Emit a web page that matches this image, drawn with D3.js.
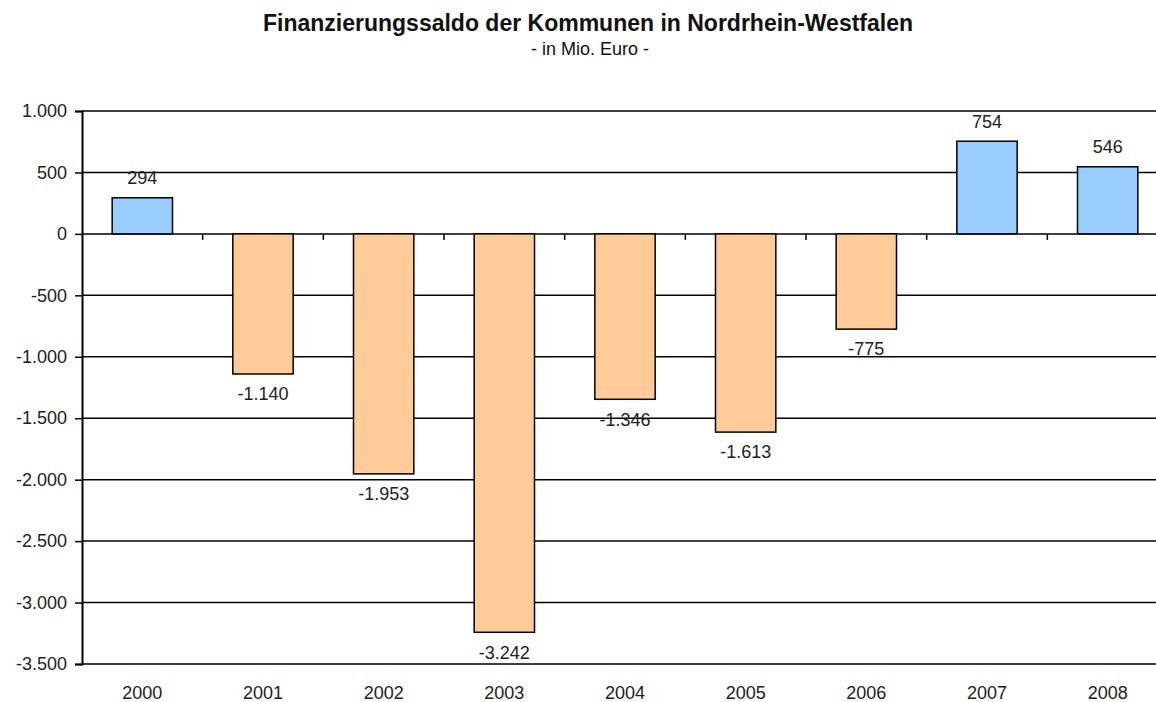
<!DOCTYPE html>
<html>
<head>
<meta charset="utf-8">
<script src="https://cdn.jsdelivr.net/npm/d3@7"></script>
<style>
  body { margin: 0; background: #fff; }
  svg { font-family: "Liberation Sans", Arial, sans-serif; }
</style>
</head>
<body>
<svg id="chart" width="1156" height="702"></svg>
<script>
// data
var years = ["2000", "2001", "2002", "2003", "2004", "2005", "2006", "2007", "2008"];
var saldo = [294, -1140, -1953, -3242, -1346, -1613, -775, 754, 546];
var yTicks = [1000, 500, 0, -500, -1000, -1500, -2000, -2500, -3000, -3500];

var data = years.map(function(y, i) { return {year: y, value: saldo[i]}; });

// german number format, plain hyphen as minus
var de = d3.formatLocale({decimal: ",", thousands: ".", grouping: [3], currency: ["", " €"], minus: "-"});
var fmt = de.format(",d");

var margin = {top: 111, left: 82, bottom: 38};
var width = 1086;
var height = 702 - margin.top - margin.bottom; // 553

var svg = d3.select("#chart");

svg.append("text")
    .attr("x", 588).attr("y", 31)
    .attr("text-anchor", "middle")
    .style("font-size", "23px").style("font-weight", "bold").style("fill", "#111")
    .text("Finanzierungssaldo der Kommunen in Nordrhein-Westfalen");

svg.append("text")
    .attr("x", 590).attr("y", 55)
    .attr("text-anchor", "middle")
    .style("font-size", "18px").style("fill", "#111")
    .text("- in Mio. Euro -");

var chart = svg.append("g")
    .attr("transform", "translate(" + margin.left + "," + margin.top + ")");

var x = d3.scaleBand()
    .domain(years)
    .range([0, width])
    .paddingInner(0.5)
    .paddingOuter(0.25);

var y = d3.scaleLinear()
    .domain([-3500, 1000])
    .range([height, 0]);

// gridlines
chart.append("g")
    .attr("class", "grid")
    .selectAll("line")
    .data(yTicks)
    .enter().append("line")
      .attr("x1", 0).attr("x2", width)
      .attr("y1", function(d) { return y(d); })
      .attr("y2", function(d) { return y(d); })
      .attr("stroke", "#000").attr("stroke-width", 1.5);

// y axis
var yAxis = d3.axisLeft(y)
    .tickValues(yTicks)
    .tickFormat(fmt)
    .tickSize(7)
    .tickPadding(8);

var yg = chart.append("g").call(yAxis);
yg.select(".domain").attr("stroke", "#000").attr("stroke-width", 2);
yg.selectAll(".tick line").attr("stroke", "#000").attr("stroke-width", 1.5);
yg.selectAll(".tick text")
    .style("font-size", "18px").style("fill", "#222")
    .style("font-family", "'Liberation Sans', Arial, sans-serif");

// bars
chart.selectAll(".bar")
    .data(data)
  .enter().append("rect")
    .attr("class", "bar")
    .attr("x", function(d) { return x(d.year); })
    .attr("y", function(d) { return y(Math.max(0, d.value)); })
    .attr("width", x.bandwidth())
    .attr("height", function(d) { return Math.abs(y(d.value) - y(0)); })
    .attr("fill", function(d) { return d.value >= 0 ? "#99ccff" : "#ffcc99"; })
    .attr("stroke", "#000")
    .attr("stroke-width", 1.5);

// zero-line ticks between categories
var step = x.step();
chart.append("g")
    .selectAll("line")
    .data(years.slice(1))
    .enter().append("line")
      .attr("x1", function(d) { return x(d) - step * 0.25; })
      .attr("x2", function(d) { return x(d) - step * 0.25; })
      .attr("y1", y(0))
      .attr("y2", y(0) + 6)
      .attr("stroke", "#000").attr("stroke-width", 1.5);

// x labels
chart.append("g")
    .selectAll("text")
    .data(years)
    .enter().append("text")
      .attr("x", function(d) { return x(d) + x.bandwidth() / 2; })
      .attr("y", height + 35)
      .attr("text-anchor", "middle")
      .style("font-size", "18px").style("fill", "#222")
      .text(function(d) { return d; });

// value labels
chart.append("g")
    .selectAll("text")
    .data(data)
    .enter().append("text")
      .attr("x", function(d) { return x(d.year) + x.bandwidth() / 2; })
      .attr("y", function(d) { return d.value >= 0 ? y(d.value) - 20 : y(d.value) + 20; })
      .attr("dy", "0.35em")
      .attr("text-anchor", "middle")
      .style("font-size", "18px").style("fill", "#222")
      .text(function(d) { return fmt(d.value); });
</script>
</body>
</html>
